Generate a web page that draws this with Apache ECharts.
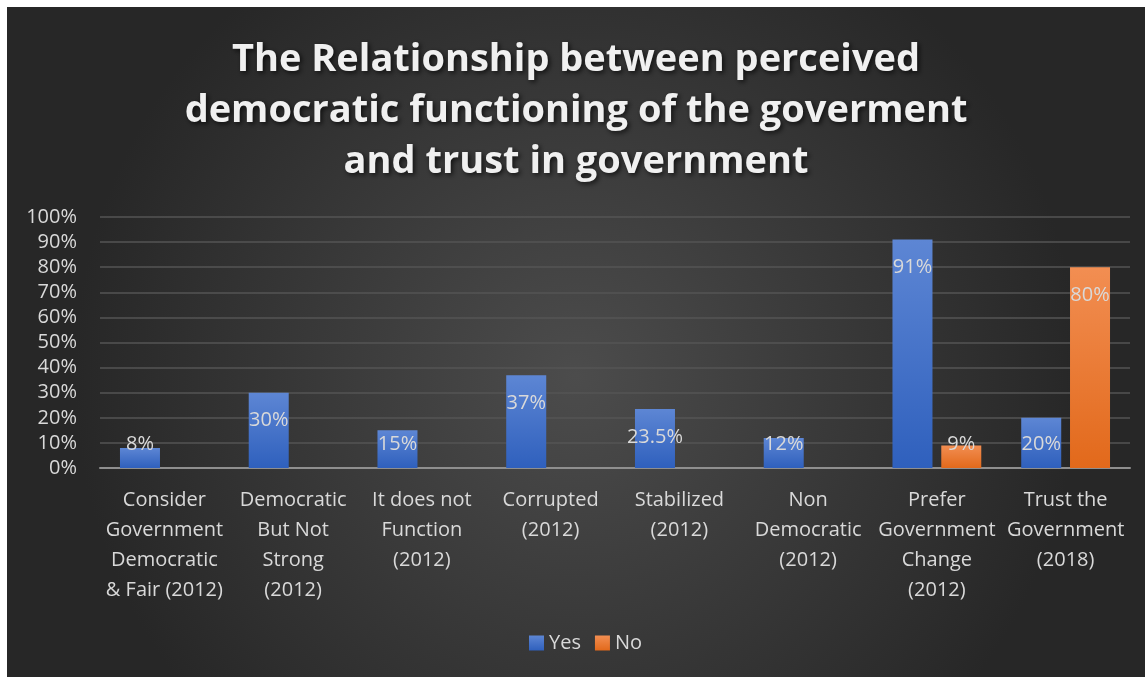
<!DOCTYPE html>
<html>
<head>
<meta charset="utf-8">
<script src="https://cdn.jsdelivr.net/npm/echarts@6/dist/echarts.min.js"></script>
<style>
  html, body { margin: 0; padding: 0; background: #ffffff; }
  #chart { position: absolute; left: 7px; top: 7px; width: 1138px; height: 670px; }
</style>
</head>
<body>
<div id="chart"></div>
<script>
// Survey categories (line breaks as shown under the axis)
const categories = [
  'Consider\nGovernment\nDemocratic\n& Fair (2012)',
  'Democratic\nBut Not\nStrong\n(2012)',
  'It does not\nFunction\n(2012)',
  'Corrupted\n(2012)',
  'Stabilized\n(2012)',
  'Non\nDemocratic\n(2012)',
  'Prefer\nGovernment\nChange\n(2012)',
  'Trust the\nGovernment\n(2018)'
];
// Percent responding
const yesValues = [8, 30, 15, 37, 23.5, 12, 91, 20];
const noValues = [null, null, null, null, null, null, 9, 80];
const seriesNames = ['Yes', 'No'];
const titleText = 'The Relationship between perceived\ndemocratic functioning of the goverment\nand trust in government';

const FONT = '"Open Sans", "DejaVu Sans", sans-serif';
const TXT = '#d9d9d9';

const chart = echarts.init(document.getElementById('chart'));

function grad(top, bottom) {
  return new echarts.graphic.LinearGradient(0, 0, 0, 1, [
    { offset: 0, color: top },
    { offset: 1, color: bottom }
  ]);
}

// Keep value labels inside the bar end, but never lower than just above the axis
function placeLabel(params) {
  const r = params.rect;
  const bottom = r.y + r.height;
  return {
    x: r.x + r.width / 2,
    y: Math.min(r.y + 28, bottom - 24),
    align: 'center',
    verticalAlign: 'middle'
  };
}

const labelStyle = {
  show: true,
  position: 'insideTop',
  color: TXT,
  fontFamily: FONT,
  fontSize: 20,
  formatter: p => p.value + '%'
};

chart.setOption({
  backgroundColor: {
    type: 'radial', x: 0.5, y: 0.55, r: 0.75,
    colorStops: [
      { offset: 0, color: '#4c4c4c' },
      { offset: 1, color: '#272727' }
    ]
  },
  title: {
    text: titleText,
    left: 'center',
    top: 23,
    textStyle: {
      color: '#f0f0f0',
      fontFamily: FONT,
      fontWeight: 'bold',
      fontSize: 38,
      lineHeight: 51,
      textShadowColor: 'rgba(0,0,0,0.7)',
      textShadowBlur: 5,
      textShadowOffsetX: 2,
      textShadowOffsetY: 2
    }
  },
  legend: {
    data: seriesNames,
    bottom: 19,
    left: 517,
    itemWidth: 15,
    itemHeight: 15,
    itemGap: 14,
    icon: 'rect',
    textStyle: { color: TXT, fontFamily: FONT, fontSize: 20 }
  },
  grid: { left: 93, right: 15, top: 210, height: 251, containLabel: false },
  xAxis: {
    type: 'category',
    data: categories,
    axisLine: { lineStyle: { color: '#8f8f8f', width: 2 } },
    axisTick: { show: false },
    axisLabel: {
      color: TXT,
      fontFamily: FONT,
      fontSize: 20,
      lineHeight: 30,
      margin: 17,
      interval: 0,
      align: 'center'
    }
  },
  yAxis: {
    type: 'value',
    min: 0,
    max: 100,
    interval: 10,
    axisLine: { show: false },
    axisTick: { show: false },
    splitLine: { lineStyle: { color: '#555555', width: 1.5 } },
    axisLabel: {
      color: TXT,
      fontFamily: FONT,
      fontSize: 20,
      margin: 23,
      formatter: v => v + '%'
    }
  },
  series: [
    {
      name: seriesNames[0],
      type: 'bar',
      data: yesValues,
      barWidth: 40,
      barGap: '22%',
      itemStyle: {
        color: grad('#5d86d4', '#2f60bd'),
        shadowColor: 'rgba(0,0,0,0.45)',
        shadowBlur: 6,
        shadowOffsetX: 2,
        shadowOffsetY: 1
      },
      label: labelStyle,
      labelLayout: placeLabel
    },
    {
      name: seriesNames[1],
      type: 'bar',
      data: noValues,
      barWidth: 40,
      itemStyle: {
        color: grad('#f28e52', '#e2691b'),
        shadowColor: 'rgba(0,0,0,0.45)',
        shadowBlur: 6,
        shadowOffsetX: 2,
        shadowOffsetY: 1
      },
      label: labelStyle,
      labelLayout: placeLabel
    }
  ]
});
</script>
</body>
</html>
